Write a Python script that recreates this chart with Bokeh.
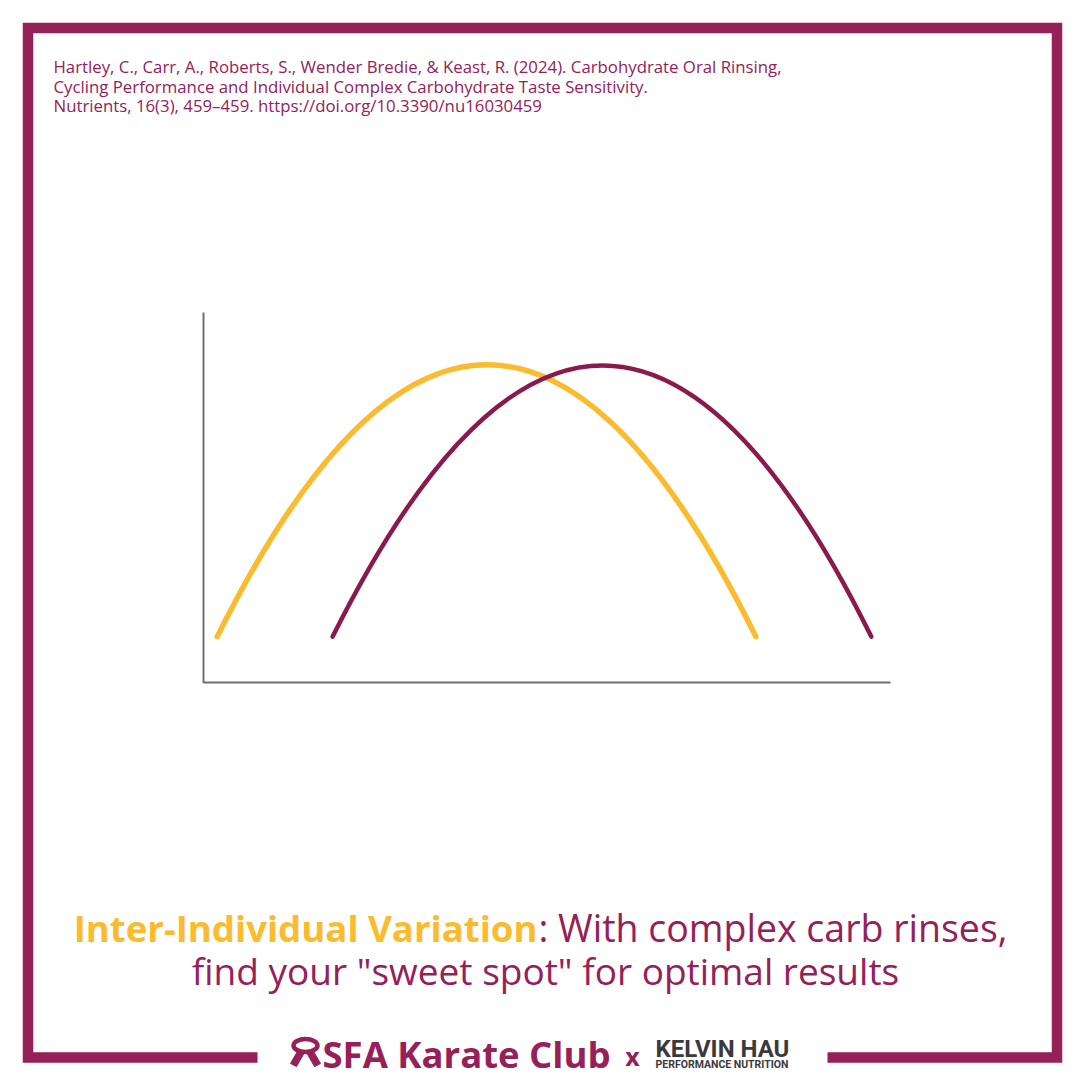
from bokeh.plotting import figure
from bokeh.models import Range1d
from bokeh.embed import file_html
from bokeh.resources import INLINE
from bokeh.core.properties import value

# ---------------- data ----------------
# chart units: x 0..100 along the horizontal axis, y 0..100 up the vertical axis
series = ["Low sensitivity", "High sensitivity"]
start_x = [2.0, 18.8]      # where each curve begins
peak_x = [41.3, 58.2]      # where each curve peaks
end_x = [80.4, 97.2]       # where each curve ends
base_y = [12.4, 12.4]      # height of both ends
peak_y = [85.9, 85.7]      # height of the peak
axis_x = [0, 0, 100]
axis_y = [100, 0, 0]

citation = [
    "Hartley, C., Carr, A., Roberts, S., Wender Bredie, & Keast, R. (2024). Carbohydrate Oral Rinsing,",
    "Cycling Performance and Individual Complex Carbohydrate Taste Sensitivity.",
    "Nutrients, 16(3), 459\u2013459. https://doi.org/10.3390/nu16030459",
]
headline_hi = "Inter-Individual Variation"
headline_rest = ": With complex carb rinses,"
headline_2 = "find your \"sweet spot\" for optimal results"

# ---------------- colours ----------------
MAROON = "#962058"
CURVE_COLORS = ["#fbbb2e", "#8a1a4c"]
CURVE_WIDTHS = [5.5, 4.5]
YELLOW = "#fbbb2e"
AXIS_GREY = "#707070"
DARK = "#3a3a3a"

# ---------------- page geometry ----------------
W = H = 1080

p = figure(width=W, height=H, output_backend="svg", toolbar_location=None,
           x_range=Range1d(0, W), y_range=Range1d(H, 0),
           x_axis_type=None, y_axis_type=None, min_border=0,
           background_fill_color="white", border_fill_color="white",
           outline_line_color=None)
p.xgrid.visible = False
p.ygrid.visible = False

# chart area in reference pixels
CX0, CX1 = 203, 890     # x axis 0..100
CY0, CY1 = 682, 312     # y axis 0..100
sx = 100.0 / (CX1 - CX0)
sy = 100.0 / (CY0 - CY1)
p.extra_x_ranges = {"cx": Range1d(0 - CX0 * sx, 100 + (W - CX1) * sx)}
p.extra_y_ranges = {"cy": Range1d(0 - (H - CY0) * sy, 100 + CY1 * sy)}

# axes
p.line(axis_x, axis_y, x_range_name="cx", y_range_name="cy",
       line_color=AXIS_GREY, line_width=2)

# curves: each a parabola through start, peak and end (quadratic Bezier)
for i in range(len(series)):
    ctrl_y = 2 * peak_y[i] - base_y[i]
    p.quadratic(x0=[start_x[i]], y0=[base_y[i]], x1=[end_x[i]], y1=[base_y[i]],
                cx=[peak_x[i]], cy=[ctrl_y], x_range_name="cx", y_range_name="cy",
                line_color=CURVE_COLORS[i], line_width=CURVE_WIDTHS[i], line_cap="round")

# frame border (open at the bottom for the logos)
p.line([257, 27.5, 27.5, 1056.5, 1056.5, 827],
       [1057, 1057, 27.5, 27.5, 1057, 1057],
       line_color=MAROON, line_width=10.5, line_join="miter")

# citation
p.text(x=[53, 53, 53], y=[66, 86, 105], text=citation,
       text_font=value("Open Sans"), text_font_size=value("16.8px"),
       text_color=MAROON, text_align="left", text_baseline="middle")

# headline
FONT_H = "Open Sans"
p.text(x=[537], y=[927], text=[headline_hi], text_font=value(FONT_H),
       text_font_size=value("36.6px"), text_font_style="bold",
       text_color=YELLOW, text_align="right", text_baseline="middle")
p.text(x=[538], y=[927], text=[headline_rest], text_font=value(FONT_H),
       text_font_size=value("37.5px"), text_color=MAROON,
       text_align="left", text_baseline="middle")
p.text(x=[545], y=[970], text=[headline_2], text_font=value(FONT_H),
       text_font_size=value("37px"), text_color=MAROON,
       text_align="center", text_baseline="middle")

# bottom logos
p.ellipse(x=[305], y=[1045], width=24, height=13, fill_color=None,
          line_color=MAROON, line_width=4.5)
p.patch([298, 304, 296, 290], [1049, 1052, 1066, 1063], color=MAROON)
p.patch([312, 306, 314, 320], [1049, 1052, 1066, 1063], color=MAROON)
p.text(x=[322], y=[1053], text=["SFA Karate Club"], text_font=value("Open Sans"),
       text_font_size=value("36.5px"), text_font_style="bold",
       text_color=MAROON, text_align="left", text_baseline="middle")
p.text(x=[632], y=[1055], text=["x"], text_font=value("Open Sans"),
       text_font_size=value("25px"), text_font_style="bold",
       text_color=MAROON, text_align="center", text_baseline="middle")
p.text(x=[655], y=[1048], text=["KELVIN HAU"], text_font=value("Roboto"),
       text_font_size=value("24px"), text_font_style="bold",
       text_color=DARK, text_align="left", text_baseline="middle")
p.text(x=[655], y=[1064], text=["PERFORMANCE NUTRITION"], text_font=value("Roboto"),
       text_font_size=value("10.5px"), text_font_style="bold",
       text_color=DARK, text_align="left", text_baseline="middle")

open("out.html", "w").write(file_html(p, INLINE))
